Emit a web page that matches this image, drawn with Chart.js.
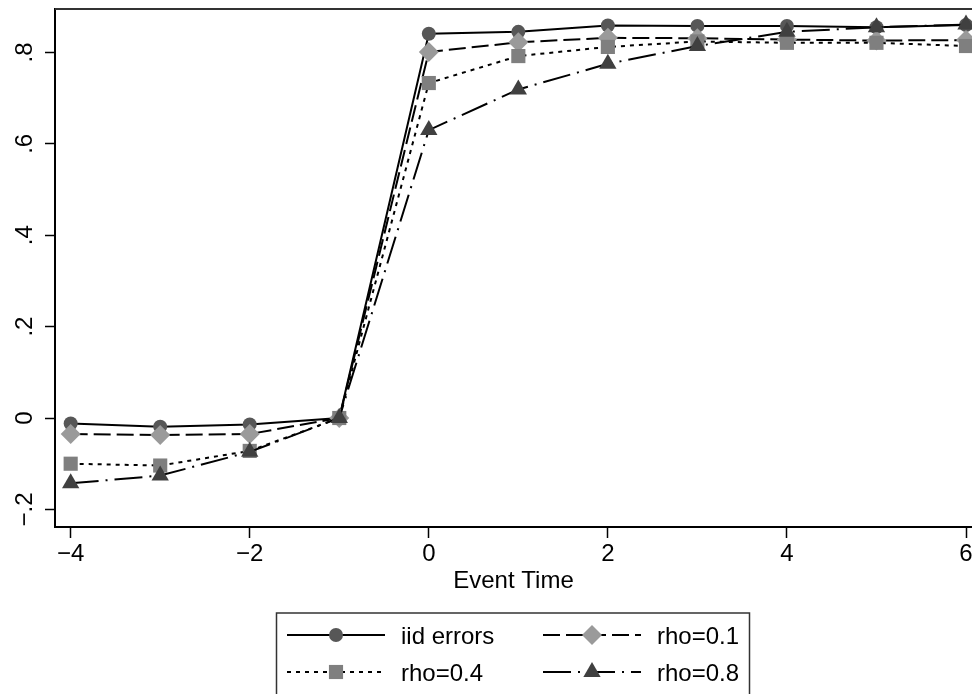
<!DOCTYPE html>
<html>
<head>
<meta charset="utf-8">
<script src="https://cdn.jsdelivr.net/npm/chart.js@4.4.0/dist/chart.umd.min.js"></script>
<style>
html, body { margin: 0; padding: 0; background: #fff; }
</style>
</head>
<body>
<canvas id="myChart" width="972" height="694"></canvas>
<script>
// values
var eventTime = [-4, -3, -2, -1, 0, 1, 2, 3, 4, 5, 6];
var iidErrors = [-0.012, -0.019, -0.014, 0, 0.841, 0.845, 0.859, 0.858, 0.858, 0.855, 0.860];
var rho01 = [-0.035, -0.037, -0.035, 0, 0.801, 0.822, 0.832, 0.831, 0.828, 0.826, 0.827];
var rho04 = [-0.100, -0.104, -0.072, 0, 0.733, 0.792, 0.812, 0.824, 0.821, 0.821, 0.814];
var rho08 = [-0.143, -0.126, -0.074, 0, 0.630, 0.719, 0.775, 0.814, 0.845, 0.855, 0.861];
var seriesNames = ['iid errors', 'rho=0.1', 'rho=0.4', 'rho=0.8'];
var xTicks = [-4, -2, 0, 2, 4, 6];
var yTicks = [-0.2, 0, 0.2, 0.4, 0.6, 0.8];

var FONT = '"Liberation Sans", Arial, sans-serif';
var MINUS = '\u2212';

function toPoints(values) {
    return eventTime.map(function (t, i) { return { x: t, y: values[i] }; });
}

function makeSet(name, values, marker, color, radius, dash, order) {
    return {
        label: name,
        data: toPoints(values),
        borderColor: '#000',
        borderWidth: 2,
        borderDash: dash,
        pointStyle: marker,
        pointRadius: radius,
        pointHoverRadius: radius,
        pointBackgroundColor: color,
        pointBorderColor: color,
        pointBorderWidth: 0,
        tension: 0,
        fill: false,
        clip: false,
        order: order
    };
}

var datasets = [
    makeSet(seriesNames[0], iidErrors, 'circle', '#575757', 7, [], 4),
    makeSet(seriesNames[1], rho01, 'rectRot', '#9a9a9a', 10, [17, 6], 3),
    makeSet(seriesNames[2], rho04, 'rect', '#7f7f7f', 10, [4, 5], 2),
    makeSet(seriesNames[3], rho08, 'triangle', '#404040', 10, [28, 7, 2, 7], 1)
];

// top frame line of the plot region
var frameTop = {
    id: 'frameTop',
    afterDraw: function (chart) {
        var ctx = chart.ctx, a = chart.chartArea;
        ctx.save();
        ctx.strokeStyle = '#333';
        ctx.lineWidth = 2;
        ctx.beginPath();
        ctx.moveTo(a.left, a.top);
        ctx.lineTo(a.right, a.top);
        ctx.stroke();
        ctx.restore();
    }
};

// stata style legend box under the axis
var boxLegend = {
    id: 'boxLegend',
    afterDraw: function (chart) {
        var ctx = chart.ctx;
        var colX = [287, 543];
        var rowY = [635, 672];
        ctx.save();
        ctx.strokeStyle = '#333';
        ctx.lineWidth = 1.5;
        ctx.strokeRect(276.5, 613, 473, 100);
        chart.data.datasets.forEach(function (ds, i) {
            var x0 = colX[i % 2], y = rowY[Math.floor(i / 2)];
            ctx.strokeStyle = '#000';
            ctx.lineWidth = 2;
            ctx.setLineDash(ds.borderDash);
            ctx.beginPath();
            ctx.moveTo(x0, y);
            ctx.lineTo(x0 + 98, y);
            ctx.stroke();
            ctx.setLineDash([]);
            ctx.fillStyle = ds.pointBackgroundColor;
            ctx.strokeStyle = ds.pointBorderColor;
            Chart.helpers.drawPoint(ctx, {
                pointStyle: ds.pointStyle, radius: ds.pointRadius, rotation: 0, borderWidth: 0
            }, x0 + 49, y);
            ctx.fillStyle = '#000';
            ctx.font = '24px ' + FONT;
            ctx.textAlign = 'left';
            ctx.textBaseline = 'alphabetic';
            ctx.fillText(ds.label, x0 + 114, y + 8.5);
        });
        ctx.restore();
    }
};

var myChart = new Chart(document.getElementById('myChart').getContext('2d'), {
    type: 'line',
    data: { datasets: datasets },
    options: {
        responsive: false,
        animation: false,
        layout: { autoPadding: false, padding: { top: 9, right: 0, bottom: 97, left: 0 } },
        plugins: {
            legend: { display: false },
            tooltip: { enabled: false }
        },
        scales: {
            x: {
                type: 'linear',
                min: -4.175,
                max: 6.067,
                afterBuildTicks: function (scale) {
                    scale.ticks = xTicks.map(function (v) { return { value: v }; });
                },
                afterFit: function (scale) {
                    scale.height = 70;
                    scale.paddingLeft = 0;
                    scale.paddingRight = 0;
                },
                grid: { drawOnChartArea: false, drawTicks: true, tickLength: 11, color: '#000', tickWidth: 1.5 },
                border: { display: true, color: '#000', width: 2 },
                ticks: {
                    autoSkip: false,
                    maxRotation: 0,
                    padding: 2,
                    color: '#000',
                    font: { family: FONT, size: 24 },
                    callback: function (v) { return v < 0 ? MINUS + (-v) : String(v); }
                },
                title: {
                    display: true,
                    text: 'Event Time',
                    color: '#000',
                    font: { family: FONT, size: 24 },
                    padding: { top: 0, bottom: 1 }
                }
            },
            y: {
                type: 'linear',
                min: -0.2385,
                max: 0.895,
                afterBuildTicks: function (scale) {
                    scale.ticks = yTicks.map(function (v) { return { value: v }; });
                },
                afterFit: function (scale) {
                    scale.width = 55;
                    scale.paddingTop = 0;
                    scale.paddingBottom = 0;
                },
                grid: { drawOnChartArea: false, drawTicks: true, tickLength: 10, color: '#000', tickWidth: 1.5 },
                border: { display: true, color: '#000', width: 2 },
                ticks: {
                    autoSkip: false,
                    minRotation: 90,
                    maxRotation: 90,
                    crossAlign: 'center',
                    padding: 3,
                    color: '#000',
                    font: { family: FONT, size: 24 },
                    callback: function (v) {
                        if (Math.abs(v) < 1e-9) return '0';
                        var s = Math.abs(v).toFixed(1).replace(/^0/, '');
                        return (v < 0 ? MINUS : '') + s;
                    }
                }
            }
        }
    },
    plugins: [frameTop, boxLegend]
});
</script>
</body>
</html>
